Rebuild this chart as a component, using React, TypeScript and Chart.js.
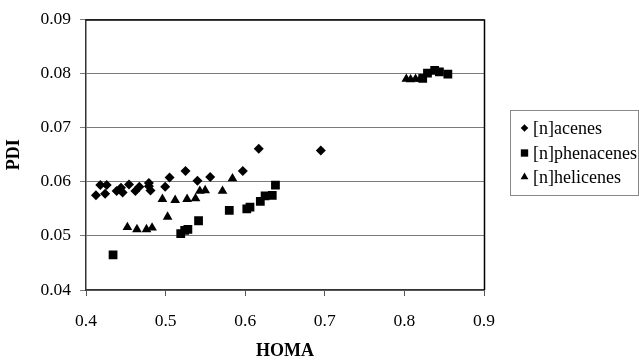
import React, { useEffect, useRef } from "react";
import { Chart, registerables } from "chart.js";
import { drawPoint } from "chart.js/helpers";

Chart.register(...registerables);

const seriesNames = ["[n]acenes", "[n]phenacenes", "[n]helicenes"];

const acenesX = [0.4125, 0.418, 0.424, 0.426, 0.4385, 0.444, 0.446, 0.454, 0.462, 0.467, 0.479, 0.479, 0.481, 0.4995, 0.505, 0.525, 0.54, 0.556, 0.597, 0.617, 0.695];
const acenesY = [0.0575, 0.0594, 0.0578, 0.0594, 0.0583, 0.0589, 0.058, 0.0595, 0.0583, 0.0591, 0.0598, 0.0592, 0.0584, 0.0591, 0.0608, 0.062, 0.0602, 0.0609, 0.062, 0.0661, 0.0658];

const phenacenesX = [0.434, 0.519, 0.524, 0.528, 0.5414, 0.58, 0.602, 0.606, 0.619, 0.625, 0.634, 0.638, 0.823, 0.829, 0.838, 0.844, 0.8546];
const phenacenesY = [0.0465, 0.0504, 0.051, 0.0512, 0.0528, 0.0547, 0.055, 0.0553, 0.0564, 0.0574, 0.0575, 0.0594, 0.0791, 0.0801, 0.0806, 0.0803, 0.0799];

const helicenesX = [0.452, 0.464, 0.476, 0.483, 0.496, 0.5025, 0.512, 0.527, 0.5376, 0.543, 0.5497, 0.5715, 0.584, 0.8024, 0.8078, 0.814, 0.82];
const helicenesY = [0.0516, 0.0512, 0.0512, 0.0515, 0.0568, 0.0535, 0.0566, 0.0568, 0.0569, 0.0583, 0.0584, 0.0583, 0.0606, 0.079, 0.0789, 0.079, 0.079];

const xTicks = [0.4, 0.5, 0.6, 0.7, 0.8, 0.9];
const yTicks = [0.04, 0.05, 0.06, 0.07, 0.08, 0.09];

const FONT = "'Liberation Serif', 'Times New Roman', serif";

const toPts = (xs: number[], ys: number[]) => xs.map((x, i) => ({ x, y: ys[i] }));

const frameAndLegend = {
  id: "frameAndLegend",
  afterDraw(chart: any) {
    const { ctx, chartArea } = chart;
    ctx.save();
    ctx.strokeStyle = "#000";
    ctx.lineWidth = 1.5;
    ctx.beginPath();
    ctx.moveTo(chartArea.left, chartArea.top + 0.5);
    ctx.lineTo(chartArea.right + 0.5, chartArea.top + 0.5);
    ctx.lineTo(chartArea.right + 0.5, chartArea.bottom);
    ctx.stroke();

    // legend box
    const bx = 510.5, by = 110.5, bw = 128, bh = 85;
    ctx.strokeStyle = "#888";
    ctx.lineWidth = 1;
    ctx.strokeRect(bx, by, bw, bh);
    const rows = [128, 153, 177];
    const styles = ["rectRot", "rect", "triangle"];
    const radii = [3.8, 5.2, 4.5];
    ctx.font = "18px " + FONT;
    ctx.textBaseline = "middle";
    seriesNames.forEach((name, i) => {
      ctx.fillStyle = "#000";
      ctx.strokeStyle = "#000";
      drawPoint(ctx, { pointStyle: styles[i], radius: radii[i], borderWidth: 0, rotation: 0 } as any, 524.5, rows[i]);
      ctx.fillStyle = "#000";
      ctx.fillText(name, 533, rows[i] + 1);
    });
    ctx.restore();
  },
};

export default function App() {
  const ref = useRef<HTMLCanvasElement | null>(null);
  useEffect(() => {
    if (!ref.current) return;
    const chart = new Chart(ref.current, {
      type: "scatter",
      data: {
        datasets: [
          { label: seriesNames[0], data: toPts(acenesX, acenesY), pointStyle: "rectRot", pointRadius: 5, backgroundColor: "#000", borderColor: "#000", borderWidth: 0 },
          { label: seriesNames[1], data: toPts(phenacenesX, phenacenesY), pointStyle: "rect", pointRadius: 6.2, backgroundColor: "#000", borderColor: "#000", borderWidth: 0 },
          { label: seriesNames[2], data: toPts(helicenesX, helicenesY), pointStyle: "triangle", pointRadius: 5.6, backgroundColor: "#000", borderColor: "#000", borderWidth: 0 },
        ],
      },
      options: {
        animation: false,
        responsive: false,
        maintainAspectRatio: false,
        layout: { padding: { top: 16, right: 155, bottom: 0, left: 0 } },
        plugins: { legend: { display: false }, tooltip: { enabled: false } },
        scales: {
          x: {
            type: "linear",
            min: 0.4,
            max: 0.9,
            afterBuildTicks: (s: any) => { s.ticks = xTicks.map((v) => ({ value: v })); },
            afterFit: (s: any) => { s.height = 72; },
            ticks: { color: "#000", font: { family: FONT, size: 17.5 }, padding: 15, callback: (v: any) => Number(v).toFixed(1) },
            grid: { display: true, drawOnChartArea: false, drawTicks: true, tickLength: 6, color: "#555" },
            border: { display: true, color: "#333", width: 1.5 },
            title: { display: true, text: "HOMA", color: "#000", font: { family: FONT, size: 18, weight: "bold" }, padding: { top: 0, bottom: 0 } },
          },
          y: {
            type: "linear",
            min: 0.04,
            max: 0.09,
            afterBuildTicks: (s: any) => { s.ticks = yTicks.map((v) => ({ value: v })); },
            afterFit: (s: any) => { s.width = 86; },
            ticks: { color: "#000", font: { family: FONT, size: 17.5 }, padding: 9, callback: (v: any) => Number(v).toFixed(2) },
            grid: { display: true, drawOnChartArea: true, drawTicks: true, tickLength: 6, color: "#7a7a7a", lineWidth: 1 },
            border: { display: true, color: "#333", width: 1.5 },
            title: { display: true, text: "PDI", color: "#000", font: { family: FONT, size: 18, weight: "bold" } },
          },
        },
      },
      plugins: [frameAndLegend],
    } as any);
    return () => chart.destroy();
  }, []);
  return (
    <div style={{ position: "absolute", left: 0, top: 0, width: 639, height: 362, background: "#fff" }}>
      <canvas ref={ref} width={639} height={362} style={{ width: 639, height: 362, display: "block" }} />
    </div>
  );
}
